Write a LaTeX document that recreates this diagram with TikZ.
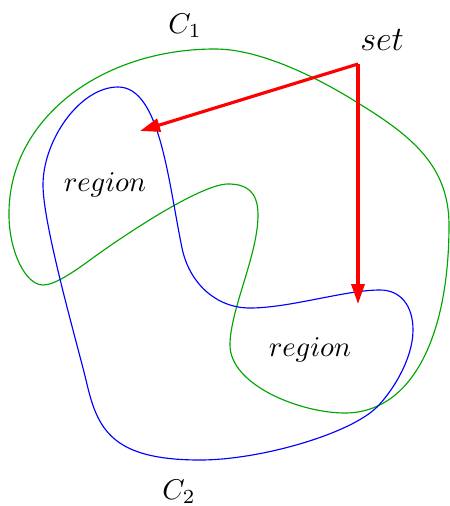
\documentclass[tikz,border=0pt]{standalone}
\usetikzlibrary{arrows.meta}
\begin{document}
\begin{tikzpicture}[x=0.35pt,y=-0.35pt,
  curveA/.style={draw=green!65!black,line width=0.4pt},
  curveB/.style={draw=blue,line width=0.4pt},
  redarrow/.style={draw=red,line width=1.1pt,-{Triangle[length=7pt,width=4.6pt]}},
  lbl/.style={inner sep=0pt}]
\useasboundingbox (0,0) rectangle (450,506);
% green curve C1
\draw[curveA] (215,49)
  .. controls (265,49) and (328,84) .. (358,103)
  .. controls (410,135) and (449,165) .. (449,225)
  .. controls (449,340) and (410,413) .. (345,413)
  .. controls (300,413) and (230,385) .. (230,345)
  .. controls (230,310) and (258,255) .. (258,215)
  .. controls (258,190) and (245,184) .. (228,184)
  .. controls (200,184) and (120,238) .. (90,260)
  .. controls (75,271) and (55,285) .. (43,285)
  .. controls (25,285) and (9,250) .. (9,215)
  .. controls (8,120) and (100,49) .. cycle;
% blue curve C2
\draw[curveB] (118,87)
  .. controls (160,87) and (168,180) .. (182,248)
  .. controls (189,282) and (215,308) .. (250,308)
  .. controls (290,308) and (345,290) .. (380,290)
  .. controls (400,290) and (413,305) .. (413,330)
  .. controls (413,360) and (391,393) .. (377,407)
  .. controls (350,434) and (260,460) .. (200,460)
  .. controls (110,460) and (97,428) .. (86,380)
  .. controls (77,343) and (43,225) .. (43,185)
  .. controls (43,140) and (80,87) .. cycle;
% labels
\node[lbl] (c1) at (185,26) {$C_1$};
\node[lbl] (c2) at (179,492) {$C_2$};
\node[lbl,font=\large] (set) at (382,40) {$set$};
\node[lbl] (r1) at (105,185) {$region$};
\node[lbl] (r2) at (310,350) {$region$};
% arrows
\coordinate (s) at (358,64);
\coordinate (t1) at (140,131);
\coordinate (t2) at (358,304);
\draw[redarrow] (s) -- (t1);
\draw[redarrow] (s) -- (t2);
\end{tikzpicture}
\end{document}
